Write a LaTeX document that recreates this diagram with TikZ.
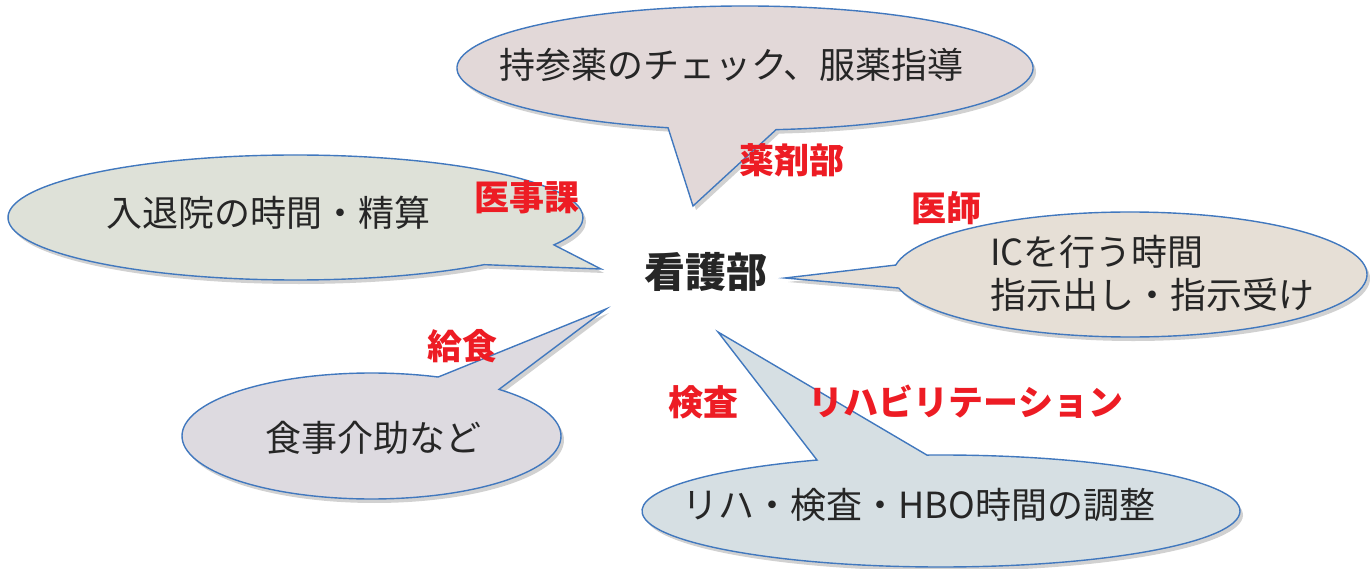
\documentclass[tikz,border=0pt]{standalone}
\usepackage{fontspec}
\setmainfont{Noto Sans CJK JP}
\usetikzlibrary{shadows}
\definecolor{edge}{RGB}{65,120,190}
\definecolor{ftop}{RGB}{226,216,216}
\definecolor{fleft}{RGB}{222,225,216}
\definecolor{fright}{RGB}{230,223,214}
\definecolor{flow}{RGB}{221,218,224}
\definecolor{fbot}{RGB}{214,223,227}
\definecolor{txt}{RGB}{38,38,38}
\definecolor{lab}{RGB}{237,28,36}
\tikzset{
  bubblestyle/.style={draw=edge, line width=1.4pt, line join=miter,
    drop shadow={shadow xshift=3pt, shadow yshift=-4pt, opacity=0.18, fill=black}},
  bubbletext/.style={text=txt, font=\fontsize{36}{43}\selectfont, inner sep=0pt},
  dept/.style={text=lab, font=\bfseries\fontsize{35}{40}\selectfont, inner sep=0pt},
  hub/.style={text=txt, font=\bfseries\fontsize{41}{48}\selectfont, inner sep=0pt}
}
% #1 cx, #2 cy, #3 rx, #4 ry, #5 angle where arc starts (tail end), #6 angle where arc ends (tail start), #7 tip, #8 fill
\newcommand\mybubble[8]{%
  \path[bubblestyle, fill=#8] ({#1+#3*cos(#5)},{#2+#4*sin(#5)})
    arc[start angle=#5, end angle={#6+360}, x radius=#3, y radius=#4]
    -- (#7) -- cycle;}
\begin{document}
\begin{tikzpicture}[x=1pt,y=-1pt]
\useasboundingbox (0,0) rectangle (1370,569);
% tail tips near the hub
\coordinate (tTop) at (693,206);
\coordinate (tLeft) at (601,269);
\coordinate (tRight) at (785,278);
\coordinate (tLow) at (606,309);
\coordinate (tBot) at (718,332);
% callouts
\mybubble{745}{68}{288}{62}{105.5}{83.8}{tTop}{ftop}
\mybubble{295.5}{217.5}{287.5}{62.5}{49}{26}{tLeft}{fleft}
\mybubble{1130}{274.5}{237}{62.5}{188.7}{167.5}{tRight}{fright}
\mybubble{371.5}{436}{189.5}{63}{312.3}{290.6}{tLow}{flow}
\mybubble{941}{511}{299}{56}{267.3}{245.5}{tBot}{fbot}
% callout texts
\node[bubbletext] (top) at (731.5,65) {持参薬のチェック、服薬指導};
\node[bubbletext] (left) at (268.5,213) {入退院の時間・精算};
\node[bubbletext, anchor=west, align=left] (right) at (990,273.5) {ICを行う時間\\指示出し・指示受け};
\node[bubbletext] (low) at (373.5,438) {食事介助など};
\node[bubbletext] (bot) at (919,505) {リハ・検査・HBO時間の調整};
% hub
\node[hub] (hubnode) at (706,272) {看護部};
% department labels
\node[dept] (yaku) at (792,160) {薬剤部};
\node[dept] (iji) at (527,197) {医事課};
\node[dept] (ishi) at (946,208) {医師};
\node[dept] (kyu) at (462,346) {給食};
\node[dept] (ken) at (703,402) {検査};
\node[dept] (riha) at (966,402) {リハビリテーション};
\end{tikzpicture}
\end{document}
